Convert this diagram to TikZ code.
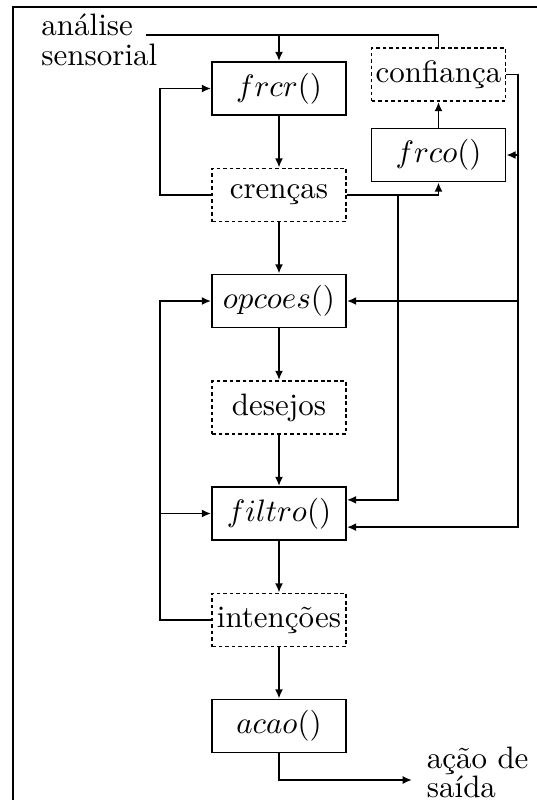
\documentclass[tikz,border=0pt]{standalone}
\usetikzlibrary{arrows.meta}
\begin{document}
\begin{tikzpicture}[x=0.3226pt,y=-0.3226pt, line width=0.6pt,
  box/.style={draw, line width=0.6pt, minimum width=43.2pt, minimum height=17.1pt, inner sep=0pt, font=\fontsize{10pt}{12pt}\selectfont},
  dbox/.style={box, dash pattern=on 1.2pt off 0.9pt},
  arr/.style={-{Latex[length=3pt,width=2.6pt]}},
  lbl/.style={anchor=base west, inner sep=0pt, align=left}]
\useasboundingbox (0,0) rectangle (537,800);
\draw (13,800) -- (13,7) -- (537,7);
\node[box] (frcr) at (279,88.5) {$frcr()$};
\node[dbox] (cren) at (279,195) {crenças};
\node[dbox] (conf) at (438.5,74.5) {confiança};
\node[box] (frco) at (438.5,155) {$frco()$};
\node[box] (opc) at (279,301) {$opcoes()$};
\node[dbox] (des) at (279,407.5) {desejos};
\node[box] (fil) at (279,513.5) {$filtro()$};
\node[dbox] (int) at (279,620) {intenções};
\node[box] (acao) at (279,726) {$acao()$};
\node[lbl, font=\fontsize{10pt}{8.7pt}\selectfont] (sens) at (40.5,35.7)
  {\begin{tabular}[t]{@{}l@{}}análise\\sensorial\end{tabular}};
\node[lbl, font=\fontsize{10pt}{8.3pt}\selectfont] (out) at (426,768)
  {\begin{tabular}[t]{@{}l@{}}ação de\\saída\end{tabular}};
\coordinate (inend) at (146,35);
\coordinate (rx) at (518,0);
\coordinate (mx) at (398,0);
\coordinate (lx) at (160,0);
\coordinate (outend) at (412,780);
% input
\draw (inend) -- (conf.north |- inend) -- (conf.north);
\draw[arr] (frcr.north |- inend) -- (frcr.north);
% main column
\draw[arr] (frcr) -- (cren);
\draw[arr] (cren) -- (opc);
\draw[arr] (opc) -- (des);
\draw[arr] (des) -- (fil);
\draw[arr] (fil) -- (int);
\draw[arr] (int) -- (acao);
% loops
\draw[arr] (cren.west) -- (lx |- cren.west) |- (frcr.west);
\draw[arr] (cren.east) -| (frco.south);
\draw[arr] (frco) -- (conf);
\draw[arr] (conf.east) -- (rx |- conf.east) |- ([yshift=-4.4pt]fil.east);
\draw[arr] (rx |- frco.east) -- (frco.east);
\draw[arr] (rx |- opc.east) -- (opc.east);
\draw[arr] (mx |- cren.east) |- ([yshift=4.4pt]fil.east);
\draw[arr] (int.west) -- (lx |- int.west) |- (opc.west);
\draw[arr] (lx |- fil.west) -- (fil.west);
\draw[arr] (acao.south) |- (outend);
\end{tikzpicture}
\end{document}
